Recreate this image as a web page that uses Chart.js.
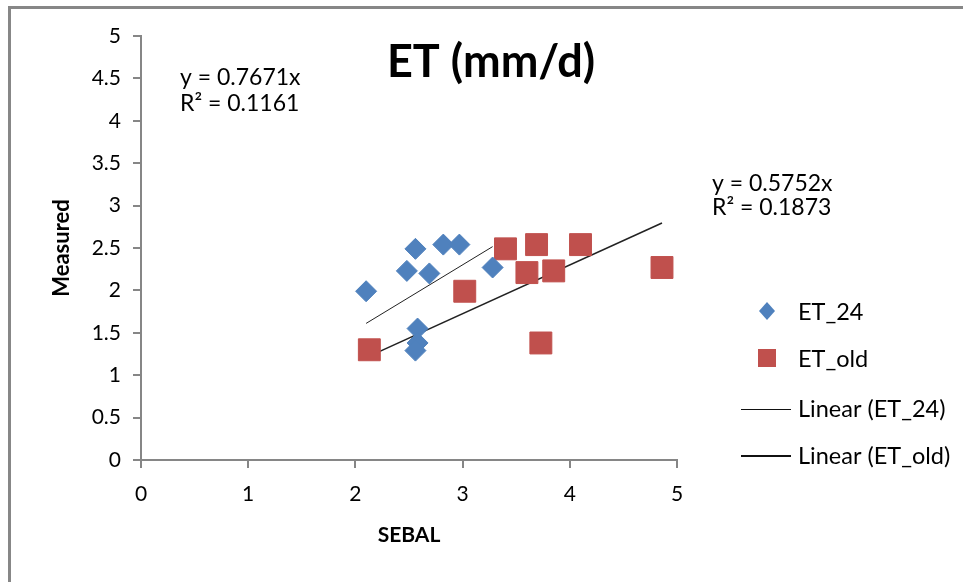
<!DOCTYPE html>
<html>
<head>
<meta charset="utf-8">
<script src="https://cdn.jsdelivr.net/npm/chart.js@4.4.1/dist/chart.umd.min.js"></script>
<style>
  html, body { margin: 0; padding: 0; background: #fff; }
  canvas { display: block; }
</style>
</head>
<body>
<canvas id="etChart" width="963" height="582"></canvas>
<script>
const et24X = [2.10, 2.56, 2.82, 2.97, 2.48, 2.69, 3.28, 2.58, 2.58, 2.56];
const et24Y = [1.99, 2.49, 2.54, 2.54, 2.23, 2.20, 2.27, 1.55, 1.38, 1.29];
const etOldX = [2.13, 3.02, 3.40, 3.69, 4.10, 3.60, 3.85, 3.73, 4.86];
const etOldY = [1.30, 1.99, 2.49, 2.54, 2.54, 2.21, 2.23, 1.38, 2.27];

// trendline coefficients shown on the chart
const slope24 = 0.7671, r2Et24 = 0.1161;
const slopeOld = 0.5752, r2EtOld = 0.1873;

const xTicks = [0, 1, 2, 3, 4, 5];
const yTicks = [0, 0.5, 1, 1.5, 2, 2.5, 3, 3.5, 4, 4.5, 5];

const FONT = "Lato, 'Open Sans', sans-serif";
const BLUE = "#4F81BD";
const RED = "#C0504D";
const AXIS = "#868686";

const toPoints = (xs, ys) => xs.map((x, i) => ({ x: x, y: ys[i] }));
const trend = (xs, k) => {
    const lo = Math.min(...xs), hi = Math.max(...xs);
    return [{ x: lo, y: k * lo }, { x: hi, y: k * hi }];
};

// frame, title, equations and legend
const decor = {
    id: "decor",
    beforeDraw(chart) {
        const c = chart.ctx;
        c.save();
        c.fillStyle = "#fff";
        c.fillRect(0, 0, chart.width, chart.height);
        c.strokeStyle = "#878787";
        c.lineWidth = 3;
        c.strokeRect(9.5, 7.5, 1100, 1100);
        c.restore();
    },
    afterDraw(chart) {
        const c = chart.ctx;
        c.save();
        c.fillStyle = "#000";
        c.textBaseline = "middle";

        c.font = "bold 45px " + FONT;
        c.textAlign = "center";
        c.fillText("ET (mm/d)", 491, 62);

        c.textAlign = "left";
        c.font = "23px " + FONT;
        c.fillText("y = " + slope24 + "x", 180, 78);
        c.fillText("R\u00b2 = " + r2Et24, 180, 104);
        c.fillText("y = " + slopeOld + "x", 712, 184);
        c.fillText("R\u00b2 = " + r2EtOld, 712, 208);

        // legend
        c.font = "23.5px " + FONT;
        c.fillStyle = BLUE;
        c.beginPath();
        c.moveTo(767, 302); c.lineTo(775, 311); c.lineTo(767, 320); c.lineTo(759, 311);
        c.closePath();
        c.fill();
        c.fillStyle = RED;
        c.fillRect(758, 349, 18, 18);

        c.strokeStyle = "#111";
        c.lineWidth = 1;
        c.beginPath(); c.moveTo(741, 409.5); c.lineTo(791, 409.5); c.stroke();
        c.lineWidth = 2;
        c.beginPath(); c.moveTo(741, 456); c.lineTo(791, 456); c.stroke();

        c.fillStyle = "#000";
        c.fillText("ET_24", 798, 312);
        c.fillText("ET_old", 798, 359);
        c.fillText("Linear (ET_24)", 798, 409);
        c.fillText("Linear (ET_old)", 798, 456);
        c.restore();
    }
};

const ctx = document.getElementById("etChart").getContext("2d");
new Chart(ctx, {
    type: "scatter",
    data: {
        datasets: [
            {
                label: "ET_24",
                data: toPoints(et24X, et24Y),
                pointStyle: "rectRot",
                radius: 10.5,
                backgroundColor: BLUE,
                borderColor: BLUE,
                borderWidth: 1
            },
            {
                label: "ET_old",
                data: toPoints(etOldX, etOldY),
                pointStyle: "rect",
                radius: 15.5,
                backgroundColor: RED,
                borderColor: RED,
                borderWidth: 1
            },
            {
                label: "Linear (ET_24)",
                type: "line",
                data: trend(et24X, slope24),
                borderColor: "#222",
                borderWidth: 1,
                pointRadius: 0,
                fill: false
            },
            {
                label: "Linear (ET_old)",
                type: "line",
                data: trend(etOldX, slopeOld),
                borderColor: "#222",
                borderWidth: 1.6,
                pointRadius: 0,
                fill: false
            }
        ]
    },
    options: {
        responsive: false,
        animation: false,
        layout: { padding: { top: 36, right: 286, left: 0, bottom: 0 } },
        plugins: {
            legend: { display: false },
            tooltip: { enabled: false }
        },
        scales: {
            x: {
                type: "linear",
                min: 0,
                max: 5,
                afterFit: s => { s.height = 122; },
                afterBuildTicks: s => { s.ticks = xTicks.map(v => ({ value: v })); },
                grid: { drawOnChartArea: false, color: AXIS, tickLength: 8, lineWidth: 2 },
                border: { color: AXIS, width: 2 },
                ticks: {
                    color: "#000",
                    font: { family: FONT, size: 21 },
                    padding: 14,
                    maxRotation: 0,
                    callback: v => String(v)
                },
                title: {
                    display: true,
                    text: "SEBAL",
                    color: "#000",
                    font: { family: FONT, size: 21, weight: "bold" },
                    padding: { top: 0, bottom: 34 }
                }
            },
            y: {
                type: "linear",
                min: 0,
                max: 5,
                afterFit: s => { s.width = 141; },
                afterBuildTicks: s => { s.ticks = yTicks.map(v => ({ value: v })); },
                grid: { drawOnChartArea: false, color: AXIS, tickLength: 8, lineWidth: 2 },
                border: { color: AXIS, width: 2 },
                ticks: {
                    color: "#000",
                    font: { family: FONT, size: 21 },
                    padding: 12,
                    callback: v => String(v)
                },
                title: {
                    display: true,
                    text: "Measured",
                    color: "#000",
                    font: { family: FONT, size: 22, weight: "bold" },
                    padding: { top: 49, bottom: 0 }
                }
            }
        }
    },
    plugins: [decor]
});
</script>
</body>
</html>
